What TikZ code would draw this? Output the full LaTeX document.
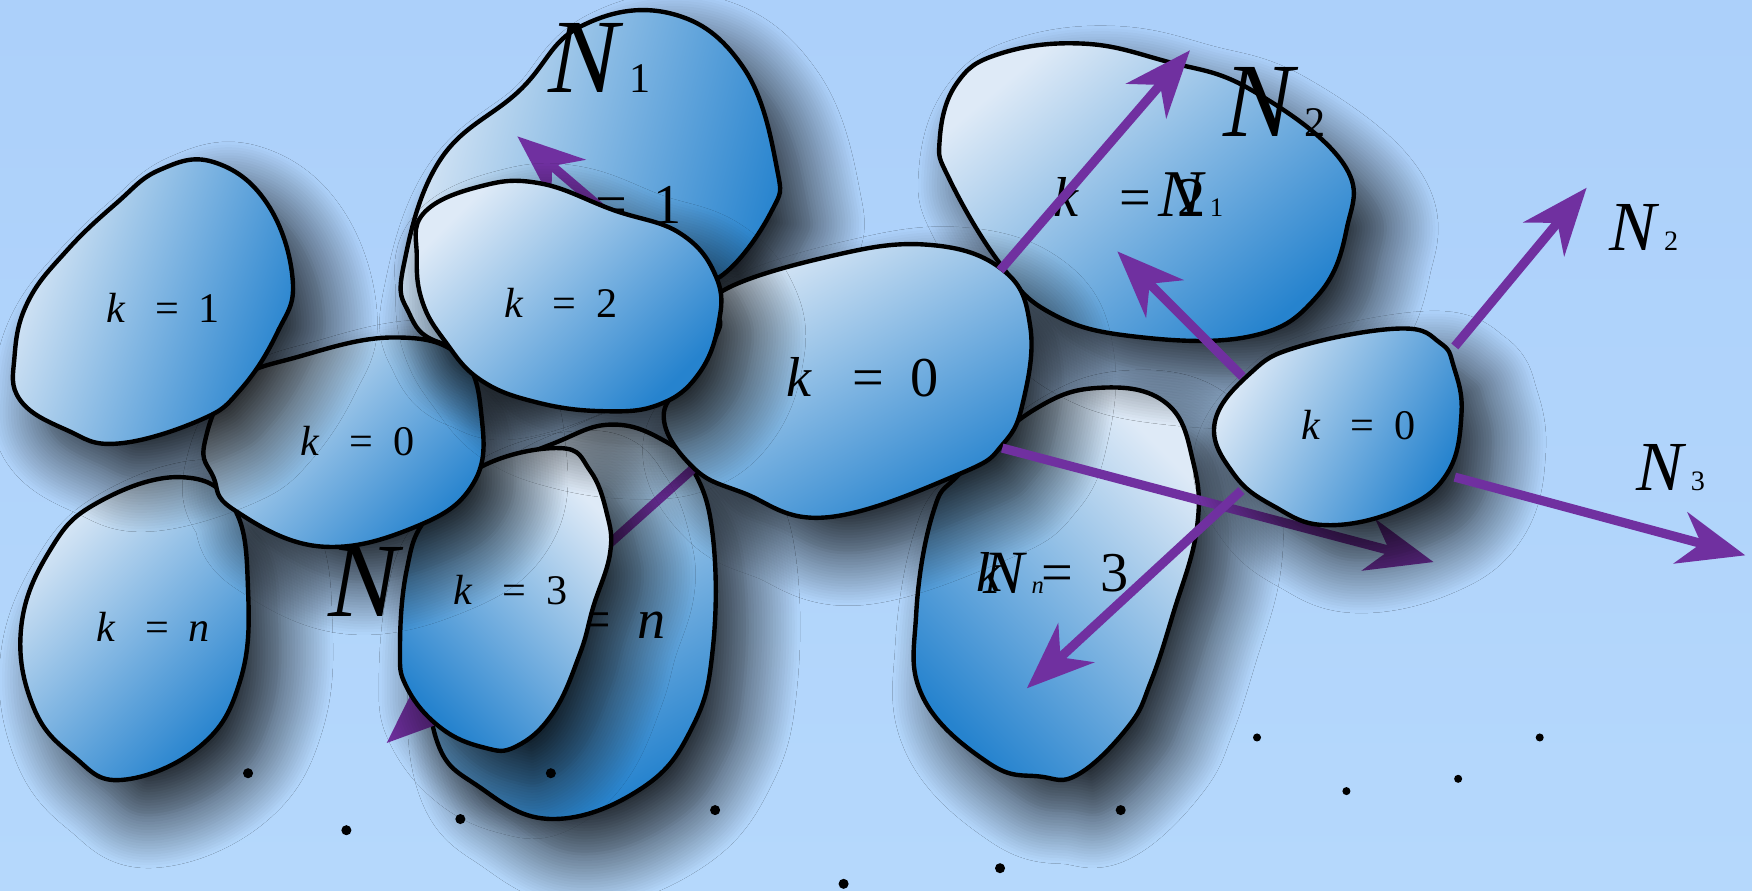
\documentclass[tikz,border=0pt]{standalone}
\usepackage{fontspec}
\setmainfont{Liberation Serif}
\usetikzlibrary{arrows.meta,shadows.blur}
\definecolor{skyTop}{RGB}{172,208,250}
\definecolor{skyBot}{RGB}{181,216,252}
\definecolor{blobLight}{RGB}{222,234,247}
\definecolor{blobMid}{RGB}{145,182,228}
\definecolor{blobBlue}{RGB}{38,131,206}
\definecolor{vecPurple}{RGB}{112,48,160}
\newcommand{\keq}[1]{\textit{k}\hspace{.7em}=\hspace{.47em}#1}
\newcommand{\Nsub}[1]{\textit{N}\hspace{.06em}\scalebox{.4}{#1}}
\tikzset{
  blob/.style={draw=black,line width=1.25pt,top color=blobLight,middle color=blobMid,bottom color=blobBlue,
    blur shadow={shadow xshift=9pt,shadow yshift=-10pt,shadow blur radius=15pt,shadow opacity=85,shadow blur steps=20}},
  vec/.style={line width=2.6pt,draw=vecPurple,-{Stealth[length=19pt,width=15pt,inset=6pt]}},
  lab/.style={anchor=base,inner sep=0pt,font=\fontsize{12}{14}\selectfont},
  biglab/.style={anchor=base,inner sep=0pt,font=\fontsize{16}{19}\selectfont},
  Nlab/.style={anchor=base west,inner sep=0pt,font=\fontsize{30}{35}\selectfont},
  nlab/.style={anchor=base west,inner sep=0pt,font=\fontsize{20}{24}\selectfont},
}
\begin{document}
\begin{tikzpicture}[x=0.011173cm,y=-0.011173cm]
%width=17.52cm
%height=8.91cm
\useasboundingbox (0,0) rectangle (1568,797);
\fill[top color=skyTop,bottom color=skyBot] (0,0) rectangle (1568,797);
% coordinates
\coordinate (fLL)   at ( 622,418);
\coordinate (fR)    at ( 897,401);
\coordinate (fUR)   at ( 895,242);
\coordinate (iUL)   at (1112,337);
\coordinate (iUR)   at (1302,310);
\coordinate (iLR)   at (1302,427);
\coordinate (iLL)   at (1111,439);
\coordinate (dTail) at ( 545,192);
\coordinate (tip1)  at (1065, 45);
\coordinate (tip2)  at (1000,225);
\coordinate (tip3)  at (1420,168);
\coordinate (tip4)  at (1562,497);
\coordinate (tip5)  at ( 919,616);
\coordinate (tip6)  at (1283,503);
\coordinate (tip7)  at ( 346,665);
\coordinate (tip8)  at ( 463,122);
% lower left grain
\path[blob,shading angle=45] plot[smooth cycle,tension=0.7] coordinates {(19,561) (30,633) (66,677) (109,698) (179,668) (215,609) (222,528) (209,454) (161,427) (87,450) (45,492)};
\node[lab] (labC) at (137,574) {\keq{\textit{n}}};
% lower right grain
\path[blob,shading angle=-45] plot[smooth cycle,tension=0.7] coordinates {(925,367) (985,347) (1044,361) (1068,414) (1071,474) (1050,549) (1030,610) (1010,650) (965,693) (931,695) (885,683) (826,624) (820,549) (835,459) (859,424)};
\node[biglab] (labH) at (942,529) {\keq{3}};
\node[anchor=base west,inner sep=0pt,font=\fontsize{17.5}{21}\selectfont] (labHn) at (880,531) {\Nsub{\textit{n}}};
% middle grain, hidden part
\path[blob,shading angle=30] plot[smooth cycle,tension=0.7] coordinates {(546,380) (590,392) (620,420) (638,480) (638,580) (620,650) (575,705) (495,733) (430,705) (390,660) (385,560) (400,470) (450,420) (500,395)};
\node[biglab] (labJ) at (528,571) {\keq{\textit{n}}};
\draw[vec] (fLL) -- (tip7);
\node[Nlab] (labNmid) at (293,552) {\textit{N}};
\path[blob,shading angle=-45] plot[smooth cycle,tension=0.7] coordinates {(501,401) (528,421) (543,459) (546,495) (531,543) (519,585) (495,638) (462,668) (433,669) (394,651) (364,615) (358,579) (364,510) (382,463) (430,418)};
\node[lab] (labK) at (457,541) {\keq{3}};
% left grains
\path[blob,shading angle=45] plot[smooth cycle,tension=0.7] coordinates {(183,397) (191,427) (209,456) (286,489) (373,471) (424,432) (431,373) (412,319) (352,302) (268,319) (209,343)};
\node[lab] (labB) at (320,408) {\keq{0}};
\path[blob,shading angle=70] plot[smooth cycle,tension=0.7] coordinates {(13,319) (18,358) (60,385) (105,397) (179,376) (215,349) (248,298) (262,251) (239,182) (191,145) (143,152) (104,182) (60,224) (25,270)};
\node[lab] (labA) at (146,289) {\keq{1}};
% upper grains
\path[blob,shading angle=75] plot[smooth cycle,tension=0.7] coordinates {(600,12) (665,60) (695,149) (690,190) (644,248) (600,250) (450,310) (392,306) (366,280) (361,239) (394,143) (465,81) (519,24)};
\node[biglab] (labD) at (542,200) {\keq{1}};
\node[Nlab] (labN1) at (490,83) {\Nsub{1}};
\draw[vec] (dTail) -- (tip8);
\path[blob,shading angle=40] plot[smooth cycle,tension=0.7] coordinates {(841,125) (856,75) (895,48) (969,39) (1044,55) (1119,80) (1202,146) (1205,206) (1178,266) (1119,301) (1014,301) (940,280) (895,236) (850,161)};
\node[biglab] (labG) at (1011,194) {\keq{2}};
\node[anchor=base west,inner sep=0pt,font=\fontsize{19}{23}\selectfont] (labGn) at (1036,194) {\Nsub{1}};
\node[Nlab] (labN2) at (1094,122) {\Nsub{2}};
% central grain
\path[blob,shading angle=30] plot[smooth cycle,tension=0.7] coordinates {(644,262) (740,230) (830,219) (898,242) (922,292) (916,358) (898,397) (859,424) (740,463) (665,441) (620,418) (594,372) (620,334) (644,293)};
\node[biglab] (labF) at (772,355) {\keq{0}};
\path[blob,shading angle=45] plot[smooth cycle,tension=0.7] coordinates {(373,230) (379,191) (429,167) (483,164) (549,188) (609,209) (641,248) (643,290) (625,335) (590,362) (540,368) (480,360) (430,340) (398,305) (378,270)};
\node[lab] (labE) at (502,284) {\keq{2}};
\draw[vec] (fR) -- (tip6);
% right grain
\path[blob,shading angle=60] plot[smooth cycle,tension=0.7] coordinates {(1253,294) (1289,307) (1301,328) (1308,370) (1295,424) (1253,456) (1187,470) (1140,453) (1104,424) (1087,379) (1119,334) (1163,310)};
\node[lab] (labI) at (1216,393) {\keq{0}};
% vectors
\draw[vec] (fUR) -- (tip1);
\draw[vec] (iUL) -- (tip2);
\draw[vec] (iUR) -- (tip3);
\draw[vec] (iLR) -- (tip4);
\draw[vec] (iLL) -- (tip5);
\node[nlab] (labN2r) at (1440,224) {\Nsub{2}};
\node[nlab] (labN3r) at (1464,439) {\Nsub{3}};
% dots
\fill ( 222,692) circle (4.5);
\fill ( 310,743) circle (4.5);
\fill ( 412,733) circle (4.5);
\fill ( 493,692) circle (4.5);
\fill ( 640,725) circle (4.5);
\fill ( 755,791) circle (4.5);
\fill ( 895,777) circle (4.5);
\fill (1003,725) circle (4.5);
\fill (1125,660) circle (3.6);
\fill (1205,708) circle (3.6);
\fill (1305,697) circle (3.6);
\fill (1378,660) circle (3.6);
\end{tikzpicture}
\end{document}
